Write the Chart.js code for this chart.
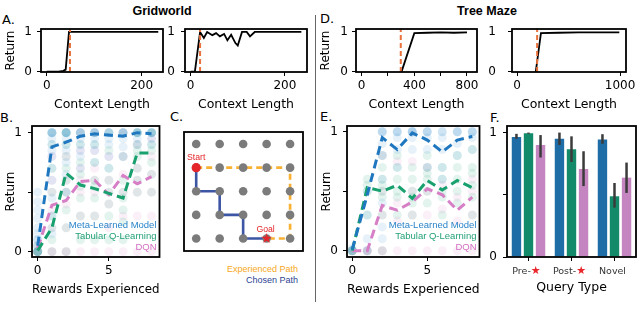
<!DOCTYPE html>
<html>
<head>
<meta charset="utf-8">
<script src="https://cdn.jsdelivr.net/npm/chart.js@4.4.1/dist/chart.umd.min.js"></script>
<style>
  body { margin: 0; background: #fff; width: 640px; height: 321px; position: relative; overflow: hidden; }
  canvas, .t { position: absolute; }
  .t { white-space: nowrap; color: #000; }
  .panel { font: 13px "DejaVu Sans"; line-height: 13px; }
  .head { font: bold 12.5px "Liberation Sans"; line-height: 14px; width: 120px; text-align: center; }
  .small { font: 9px "Liberation Sans"; line-height: 10px; width: 100px; text-align: right; }
</style>
</head>
<body>
<div class="t head" style="left:102px;top:4px">Gridworld</div>
<div class="t head" style="left:427px;top:4px">Tree Maze</div>
<div class="t panel" style="left:2px;top:13px">A.</div>
<div class="t panel" style="left:320px;top:12px">D.</div>
<div class="t panel" style="left:0px;top:111px">B.</div>
<div class="t panel" style="left:170px;top:110px">C.</div>
<div class="t panel" style="left:320px;top:110px">E.</div>
<div class="t panel" style="left:490px;top:111px">F.</div>
<div class="t" style="left:315px;top:15px;width:1px;height:287px;background:#666"></div>

<canvas id="a1" width="166" height="92" style="left:0px;top:22px"></canvas>
<canvas id="a2" width="150" height="92" style="left:160px;top:22px"></canvas>
<canvas id="d1" width="163" height="92" style="left:317px;top:22px"></canvas>
<canvas id="d2" width="154" height="92" style="left:486px;top:22px"></canvas>
<canvas id="b" width="164" height="182" style="left:0px;top:118px"></canvas>
<canvas id="c" width="133" height="133" style="left:177px;top:125px"></canvas>
<canvas id="e" width="166" height="182" style="left:318px;top:118px"></canvas>
<canvas id="f" width="155" height="182" style="left:484px;top:118px"></canvas>

<div class="t small" style="left:198px;top:264px;color:#f7a823">Experienced Path</div>
<div class="t small" style="left:198px;top:275px;color:#2e3f93">Chosen Path</div>

<script>
// A / D: return vs context length
const contextA1 = [0, 25, 35, 40, 47, 100, 150, 200, 235];
const returnA1 = [0, 0, 0.02, 0.05, 1, 1, 1, 1, 1];
const cutoffA1 = 49;

const contextA2 = [0, 9, 20, 28, 35, 46, 54, 62, 71, 78, 86, 95, 100, 109, 119, 126, 136, 235];
const returnA2 = [0, 0, 1, 0.85, 1, 0.92, 0.97, 0.89, 0.95, 0.79, 0.93, 0.72, 0.66, 1, 1, 0.89, 1, 1];
const cutoffA2 = 20;

const contextD1 = [303, 400, 500, 600, 700, 800];
const returnD1 = [0, 0.97, 0.98, 0.99, 0.98, 0.99];
const cutoffD1 = 297;

const contextD2 = [182, 232, 400, 600, 800, 993];
const returnD2 = [0, 0.97, 0.98, 0.99, 0.99, 0.99];
const cutoffD2 = 195;

// tick values and which of them carry a label
const ticksA = [0, 200];
const ticksD1 = [0, 200, 400, 600, 800];
const labelsD1 = [0, 400, 800];
const ticksD2 = [0, 1000];
const ticksRewards = [0, 5];
const ticksReturnTop = [0, 1];
const ticksReturn = [0, 0.5, 1];
const labelsReturn = [0, 1];

// B / E: return vs rewards experienced
const rewards = [0, 1, 2, 3, 4, 5, 6, 7, 8];
const seriesNames = ['Meta-Learned Model', 'Tabular Q-Learning', 'DQN'];

const metaB = [0.05, 0.88, 0.92, 0.97, 0.99, 0.98, 0.97, 1.0, 0.99];
const tabularB = [0.01, 0.2, 0.66, 0.56, 0.53, 0.49, 0.45, 0.83, 0.83];
const dqnB = [0.03, 0.39, 0.43, 0.59, 0.6, 0.48, 0.64, 0.57, 0.63];
const metaDotsB = [
  [0, 0.05, 0.1, 0.15, 0.2, 0.28, 0.35, 0.42, 0.5, 0, 0.1],
  [1, 1, 1, 1, 0.95, 0.9, 0.85, 0.8, 0.7, 0.6, 0.45, 0.3, 0.15],
  [1, 1, 1, 1, 0.95, 0.9, 0.85, 0.75, 0.65, 0.5],
  [1, 1, 1, 0.95, 0.9, 0.85, 0.8, 0.7],
  [1, 1, 1, 0.95, 0.9, 0.85, 0.75],
  [1, 1, 1, 0.95, 0.9, 0.8, 0.7],
  [1, 1, 1, 0.95, 0.88, 0.8],
  [1, 1, 1, 0.95, 0.9],
  [1, 1, 1, 0.95, 0.9]
];
const tabularDotsB = [
  [0, 0, 0, 0, 0.05],
  [0, 0.1, 0.2, 0.3, 0.5, 0.7, 0.9, 1],
  [0, 0.2, 0.35, 0.5, 0.6, 0.7, 0.8, 0.9, 1, 1],
  [0.1, 0.3, 0.45, 0.55, 0.65, 0.75, 0.9, 1],
  [0.1, 0.3, 0.45, 0.55, 0.6, 0.75, 0.9, 1],
  [0.1, 0.3, 0.4, 0.5, 0.6, 0.7, 0.85, 1],
  [0.1, 0.25, 0.35, 0.45, 0.5, 0.6, 0.8, 1],
  [0.5, 0.6, 0.7, 0.8, 0.85, 0.9, 1, 1],
  [0.5, 0.65, 0.75, 0.85, 0.9, 1, 1]
];
const dqnDotsB = [
  [0, 0, 0.05],
  [0, 0, 0.2, 0.35, 0.5, 0.6, 0.8],
  [0, 0, 0.2, 0.4, 0.5, 0.6, 0.8],
  [0, 0.3, 0.5, 0.6, 0.7, 0.85, 1],
  [0, 0.3, 0.5, 0.6, 0.7, 0.85, 1],
  [0, 0.2, 0.4, 0.5, 0.6, 0.8],
  [0, 0.3, 0.5, 0.65, 0.8, 1],
  [0, 0.3, 0.5, 0.6, 0.7, 0.9],
  [0, 0.3, 0.5, 0.65, 0.8, 0.95]
];

const metaE = [0.01, 0.47, 0.95, 0.85, 0.99, 0.93, 0.83, 0.93, 0.96];
const tabularE = [0, 0.53, 0.5, 0.55, 0.44, 0.59, 0.51, 0.59, 0.53];
const dqnE = [0, 0, 0.38, 0.34, 0.41, 0.52, 0.47, 0.34, 0.45];
const metaDotsE = [
  [0, 0, 0.02],
  [0, 0.1, 0.3, 0.5],
  [1, 1, 1, 0.9, 0.8, 0.6, 0.4, 0.2, 0.1],
  [1, 1, 1, 0.95, 0.85, 0.7],
  [1, 1, 1, 1, 0.95, 0.85],
  [1, 1, 1, 0.95, 0.85, 0.7],
  [1, 1, 0.95, 0.85, 0.7, 0.6],
  [1, 1, 1, 0.9, 0.8],
  [1, 1, 1, 0.95, 0.85]
];
const tabularDotsE = [
  [0, 0, 0],
  [0, 0.3, 0.5, 0.55, 0.6],
  [0, 0.3, 0.45, 0.5, 0.55, 0.6, 0.7, 0.8],
  [0.3, 0.45, 0.5, 0.6, 0.7, 0.8],
  [0.3, 0.4, 0.45, 0.5, 0.6, 0.7],
  [0.4, 0.5, 0.6, 0.65, 0.7, 0.8],
  [0.3, 0.45, 0.5, 0.6, 0.7],
  [0.4, 0.5, 0.6, 0.7, 0.8],
  [0.3, 0.45, 0.55, 0.65, 0.7, 0.85]
];
const dqnDotsE = [
  [0, 0],
  [0, 0, 0],
  [0, 0, 0.3, 0.5, 0.8],
  [0, 0.25, 0.4, 0.75],
  [0, 0.3, 0.5, 0.75],
  [0, 0.3, 0.5, 0.7],
  [0, 0.35, 0.55],
  [0, 0.25, 0.45],
  [0, 0.3, 0.5, 0.6]
];

// C: gridworld example
const gridCols = [0, 1, 2, 3, 4];
const gridRows = [0, 1, 2, 3, 4];
const experiencedX = [0, 4, 4, 3];
const experiencedY = [3, 3, 0, 0];
const chosenX = [0, 0, 1, 1, 2, 2, 3];
const chosenY = [3, 2, 2, 1, 1, 0, 0];
const startCell = [0, 3];
const goalCell = [3, 0];

// F: query types
const queryTypes = ['Pre-★', 'Post-★', 'Novel'];
const metaF = [0.965, 0.95, 0.944];
const metaLoF = [0.95, 0.9, 0.91];
const metaHiF = [0.99, 1.0, 0.987];
const tabularF = [0.995, 0.866, 0.488];
const tabularLoF = [0.99, 0.764, 0.397];
const tabularHiF = [1.0, 0.97, 0.595];
const dqnF = [0.9, 0.708, 0.638];
const dqnLoF = [0.8, 0.57, 0.515];
const dqnHiF = [0.98, 0.85, 0.759];

const lineColors = ['#1f77c0', '#19a06f', '#d67fc6'];
const dotColors = ['rgba(59,143,208,0.13)', 'rgba(42,166,122,0.13)', 'rgba(222,136,204,0.13)'];
const legendColors = ['#2a84c9', '#23a275', '#d36fc3'];
const barColors = ['#1f6da6', '#138a6a', '#c585c1'];

Chart.defaults.animation = false;
Chart.defaults.responsive = false;
Chart.defaults.maintainAspectRatio = false;
Chart.defaults.events = [];
Chart.defaults.plugins.legend.display = false;
Chart.defaults.plugins.tooltip.enabled = false;
Chart.defaults.font.family = 'DejaVu Sans';
Chart.defaults.color = '#000';

const tickFont = { family: 'DejaVu Sans', size: 12 };
const titleFont = { family: 'DejaVu Sans', size: 12.5 };

// black frame round every axes
Chart.register({
  id: 'frame',
  afterDatasetsDraw(chart) {
    const a = chart.chartArea, ctx = chart.ctx;
    ctx.save();
    ctx.strokeStyle = '#000';
    ctx.lineWidth = 1.8;
    ctx.strokeRect(a.left, a.top, a.right - a.left, a.bottom - a.top);
    ctx.restore();
  }
});

function fixedTicks(values) {
  return scale => { scale.ticks = values.map(v => ({ value: v })); };
}

// fixed axis sizes, and no extra room reserved for overhanging labels
function fitX(height) {
  return s => { s.height = height; s.paddingLeft = 0; s.paddingRight = 0; };
}
function fitY(width) {
  return s => { s.width = width; s.paddingTop = 0; s.paddingBottom = 0; };
}

function xLinear(min, max, tickVals, shown, height, title, pad) {
  return {
    type: 'linear', min: min, max: max,
    afterBuildTicks: fixedTicks(tickVals),
    afterFit: fitX(height),
    ticks: {
      autoSkip: false, maxRotation: 0, padding: 3, color: '#000', font: tickFont,
      callback: v => shown.includes(v) ? String(v) : ''
    },
    grid: { drawOnChartArea: false, tickLength: 4, tickColor: '#000' },
    border: { display: false },
    title: { display: true, text: title, color: '#000', font: titleFont, padding: { top: 0, bottom: pad } }
  };
}

function yLinear(min, max, tickVals, width, tickPad, title, titlePad) {
  return {
    type: 'linear', min: min, max: max,
    afterBuildTicks: fixedTicks(tickVals),
    afterFit: fitY(width),
    ticks: {
      autoSkip: false, padding: tickPad, color: '#000', font: tickFont,
      callback: v => labelsReturn.includes(v) ? String(v) : ''
    },
    grid: { drawOnChartArea: false, tickLength: 4, tickColor: '#000' },
    border: { display: false },
    title: {
      display: !!title, text: title || '', color: '#000',
      font: { family: 'DejaVu Sans', size: 12 }, padding: { top: titlePad || 0, bottom: 0 }
    }
  };
}

function points(xs, ys) {
  return xs.map((x, i) => ({ x: x, y: ys[i] }));
}

const topYMin = -0.01, topYMax = 1.075;

function topPanel(id, xs, ys, cut, xAxis, yAxis, padRight) {
  new Chart(document.getElementById(id), {
    type: 'scatter',
    data: {
      datasets: [
        { data: [{ x: cut, y: topYMin }, { x: cut, y: topYMax }], showLine: true,
          borderColor: '#e8713c', borderWidth: 2, borderDash: [5, 3], pointRadius: 0 },
        { data: points(xs, ys), showLine: true, borderColor: '#000', borderWidth: 1.8, pointRadius: 0 }
      ]
    },
    options: {
      layout: { padding: { top: 7, right: padRight, left: 0, bottom: 0 } },
      scales: { x: xAxis, y: yAxis }
    }
  });
}

topPanel('a1', contextA1, returnA1, cutoffA1,
  xLinear(-12, 245, ticksA, ticksA, 42, 'Context Length', 1.5),
  yLinear(topYMin, topYMax, ticksReturnTop, 41, 5, 'Return', 4), 3);
topPanel('a2', contextA2, returnA2, cutoffA2,
  xLinear(-12, 247, ticksA, ticksA, 42, 'Context Length', 1.5),
  yLinear(topYMin, topYMax, ticksReturnTop, 25, 6), 3);
topPanel('d1', contextD1, returnD1, cutoffD1,
  xLinear(-43, 876, ticksD1, labelsD1, 42, 'Context Length', 1.5),
  yLinear(topYMin, topYMax, ticksReturnTop, 39, 4, 'Return', 2), 3);
topPanel('d2', contextD2, returnD2, cutoffD2,
  xLinear(-49, 1058, ticksD2, ticksD2, 42, 'Context Length', 1.5),
  yLinear(topYMin, topYMax, ticksReturnTop, 26, 12), 14);

// legend text inside lower right corner
const cornerLegend = {
  id: 'cornerLegend',
  afterDraw(chart) {
    const a = chart.chartArea, ctx = chart.ctx;
    const rows = [31.5, 20.5, 10];
    ctx.save();
    ctx.font = '9.5px "Liberation Sans"';
    ctx.textAlign = 'right';
    ctx.textBaseline = 'middle';
    seriesNames.forEach((name, i) => {
      ctx.fillStyle = legendColors[i];
      ctx.fillText(name, a.right - 3, a.bottom - rows[i]);
    });
    ctx.restore();
  }
};

function dots(columns) {
  const out = [];
  columns.forEach((col, i) => col.forEach(y => out.push({ x: rewards[i], y: y })));
  return out;
}

function rewardPanel(id, lines, dotCols, xMin, xMax, yMin, yMax, yWidth, yTickPad, titlePad) {
  const lineSets = lines.map((ys, i) => ({
    data: points(rewards, ys), showLine: true, borderColor: lineColors[i], borderWidth: 3,
    borderDash: [9, 5], pointRadius: 0
  }));
  const dotSets = dotCols.map((cols, i) => ({
    data: dots(cols), pointRadius: 4.5, pointBackgroundColor: dotColors[i], pointBorderWidth: 0
  }));
  new Chart(document.getElementById(id), {
    type: 'scatter',
    data: { datasets: lineSets.concat(dotSets) },
    options: {
      layout: { padding: { top: 8, right: 3, left: 0, bottom: 0 } },
      scales: {
        x: xLinear(xMin, xMax, ticksRewards, ticksRewards, 43, 'Rewards Experienced', 3),
        y: yLinear(yMin, yMax, ticksReturn, yWidth, yTickPad, 'Return', titlePad)
      }
    },
    plugins: [cornerLegend]
  });
}

rewardPanel('b', [metaB, tabularB, dqnB], [metaDotsB, tabularDotsB, dqnDotsB],
  -0.4, 8.56, -0.045, 1.056, 32, 6, 4);
rewardPanel('e', [metaE, tabularE, dqnE], [metaDotsE, tabularDotsE, dqnDotsE],
  -0.35, 8.48, -0.053, 1.048, 29, 5, 2);

// C
function starImage(size, color) {
  const cv = document.createElement('canvas');
  cv.width = size; cv.height = size;
  const g = cv.getContext('2d');
  g.fillStyle = color;
  g.beginPath();
  for (let i = 0; i < 10; i++) {
    const r = i % 2 ? size * 0.2 : size * 0.5;
    const a = -Math.PI / 2 + i * Math.PI / 5;
    g.lineTo(size / 2 + r * Math.cos(a), size / 2 + r * Math.sin(a));
  }
  g.closePath();
  g.fill();
  return cv;
}

const gridDots = [];
gridRows.forEach(r => gridCols.forEach(c => gridDots.push({ x: c, y: r })));

const gridLabels = {
  id: 'gridLabels',
  afterDraw(chart) {
    const ctx = chart.ctx;
    const s = chart.getDatasetMeta(0).data[0];
    const g = chart.getDatasetMeta(1).data[0];
    ctx.save();
    ctx.font = '8.7px "Liberation Sans"';
    ctx.fillStyle = '#e5252a';
    ctx.textAlign = 'center';
    ctx.textBaseline = 'middle';
    ctx.fillText('Start', s.x, s.y - 10.5);
    ctx.fillText('Goal', g.x - 1, g.y - 9);
    ctx.restore();
  }
};

new Chart(document.getElementById('c'), {
  type: 'scatter',
  data: {
    datasets: [
      { data: [{ x: startCell[0], y: startCell[1] }], pointRadius: 4.6, pointBackgroundColor: '#e5252a', pointBorderWidth: 0 },
      { data: [{ x: goalCell[0], y: goalCell[1] }], pointStyle: starImage(11, '#e5252a'), pointRadius: 6 },
      { data: gridDots, pointRadius: 4.3, pointBackgroundColor: '#7b7b7b', pointBorderWidth: 0 },
      { data: points(chosenX, chosenY), showLine: true, borderColor: '#3d55a5', borderWidth: 2.6, pointRadius: 0 },
      { data: points(experiencedX, experiencedY), showLine: true, borderColor: '#f8b133', borderWidth: 2.7,
        borderDash: [6, 4], pointRadius: 0 }
    ]
  },
  options: {
    layout: { padding: 1 },
    scales: {
      x: { type: 'linear', display: false, min: -0.52, max: 4.55 },
      y: { type: 'linear', display: false, min: -0.53, max: 4.51 }
    }
  },
  plugins: [gridLabels]
});

// F
const errLow = [metaLoF, tabularLoF, dqnLoF];
const errHigh = [metaHiF, tabularHiF, dqnHiF];

const errorBars = {
  id: 'errorBars',
  afterDatasetsDraw(chart) {
    const ctx = chart.ctx, ys = chart.scales.y;
    ctx.save();
    ctx.strokeStyle = '#3b3b3b';
    ctx.lineWidth = 2.5;
    chart.data.datasets.forEach((ds, di) => {
      chart.getDatasetMeta(di).data.forEach((bar, i) => {
        ctx.beginPath();
        ctx.moveTo(bar.x, ys.getPixelForValue(errLow[di][i]));
        ctx.lineTo(bar.x, ys.getPixelForValue(errHigh[di][i]));
        ctx.stroke();
      });
    });
    ctx.restore();
  }
};

const queryLabels = {
  id: 'queryLabels',
  afterDraw(chart) {
    const ctx = chart.ctx, xs = chart.scales.x, y = chart.chartArea.bottom + 14.5;
    ctx.save();
    ctx.textBaseline = 'middle';
    ctx.textAlign = 'left';
    queryTypes.forEach((label, i) => {
      const cx = xs.getPixelForTick(i) - 2;
      const hasStar = label.endsWith('★');
      const head = hasStar ? label.slice(0, -1) : label;
      ctx.font = '9.5px "DejaVu Sans"';
      const w1 = ctx.measureText(head).width;
      ctx.font = '11px "DejaVu Sans"';
      const w2 = hasStar ? ctx.measureText('★').width : 0;
      const x0 = cx - (w1 + w2) / 2;
      ctx.font = '9.5px "DejaVu Sans"';
      ctx.fillStyle = '#333';
      ctx.fillText(head, x0, y);
      if (hasStar) {
        ctx.font = '11px "DejaVu Sans"';
        ctx.fillStyle = '#e8262b';
        ctx.fillText('★', x0 + w1, y);
      }
    });
    ctx.restore();
  }
};

new Chart(document.getElementById('f'), {
  type: 'bar',
  data: {
    labels: queryTypes,
    datasets: [metaF, tabularF, dqnF].map((vals, i) => ({
      label: seriesNames[i], data: vals, backgroundColor: barColors[i], borderWidth: 0,
      categoryPercentage: 0.84, barPercentage: 0.78
    }))
  },
  options: {
    layout: { padding: { top: 8, right: 3, left: 0, bottom: 0 } },
    scales: {
      x: {
        type: 'category', offset: true,
        afterFit: fitX(43),
        ticks: { autoSkip: false, maxRotation: 0, padding: 3, font: { size: 9.5 }, callback: () => '' },
        grid: { offset: false, drawOnChartArea: false, tickLength: 4, tickColor: '#000' },
        border: { display: false },
        title: { display: true, text: 'Query Type', color: '#000', font: titleFont, padding: { top: 0, bottom: 4.5 } }
      },
      y: yLinear(0, 1.053, ticksReturn, 23, 6)
    }
  },
  plugins: [errorBars, queryLabels]
});
</script>
</body>
</html>
